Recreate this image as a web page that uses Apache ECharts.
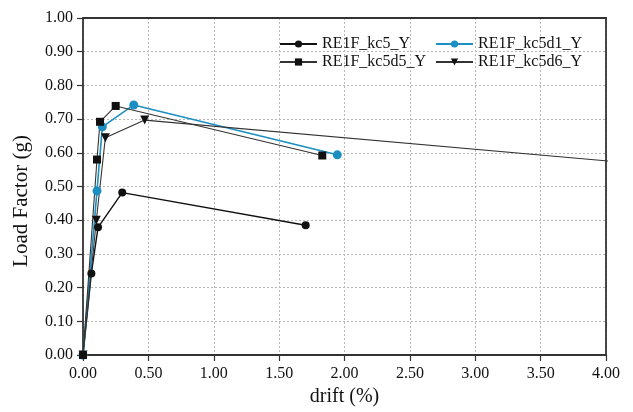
<!DOCTYPE html>
<html>
<head>
<meta charset="utf-8">
<script src="https://cdn.jsdelivr.net/npm/echarts@6/dist/echarts.min.js"></script>
<style>
  html, body { margin: 0; padding: 0; background: #ffffff; }
  #chart { width: 633px; height: 412px; }
</style>
</head>
<body>
<div id="chart"></div>
<script>
// Drift (%) and load factor (g) for each model run
const seriesNames = ['RE1F_kc5_Y', 'RE1F_kc5d1_Y', 'RE1F_kc5d5_Y', 'RE1F_kc5d6_Y'];
const driftKc5   = [0, 0.064, 0.115, 0.300, 1.703];
const loadKc5    = [0, 0.242, 0.379, 0.482, 0.385];
const driftKc5d1 = [0, 0.107, 0.148, 0.388, 1.945];
const loadKc5d1  = [0, 0.487, 0.677, 0.742, 0.594];
const driftKc5d5 = [0, 0.107, 0.130, 0.250, 1.830];
const loadKc5d5  = [0, 0.580, 0.692, 0.739, 0.592];
const driftKc5d6 = [0, 0.102, 0.171, 0.472, 5.000];
const loadKc5d6  = [0, 0.400, 0.645, 0.697, 0.542];

const FONT = "'Liberation Serif', 'Times New Roman', serif";
const AXIS_COLOR = '#333';

function pairs(xs, ys) {
  return xs.map((x, i) => [x, ys[i]]);
}

const chart = echarts.init(document.getElementById('chart'), null, { renderer: 'canvas' });

const legendText = { fontFamily: FONT, fontSize: 16, color: '#111' };
const gridDash = { show: true, lineStyle: { color: '#b8b8b8', type: [2, 2], width: 1 } };

// Plain frame lines for the top and right edges of the plot
const frameAxis = {
  type: 'value', axisLine: { show: true, onZero: false, lineStyle: { color: AXIS_COLOR, width: 1.8 } },
  axisTick: { show: false }, axisLabel: { show: false }, splitLine: { show: false }
};

chart.setOption({
  animation: false,
  backgroundColor: '#ffffff',
  grid: { left: 83, right: 27, top: 18, bottom: 57 },
  legend: [
    {
      data: [seriesNames[0], seriesNames[2]],
      orient: 'vertical', left: 274, top: 31,
      itemWidth: 37, itemHeight: 9, itemGap: 2,
      textStyle: legendText
    },
    {
      data: [seriesNames[1], seriesNames[3]],
      orient: 'vertical', left: 430, top: 31,
      itemWidth: 37, itemHeight: 9, itemGap: 2,
      textStyle: legendText
    }
  ],
  xAxis: [
    {
      type: 'value', min: 0, max: 4, interval: 0.5,
      name: 'drift (%)', nameLocation: 'middle', nameGap: 31,
      nameTextStyle: { fontFamily: FONT, fontSize: 20, color: '#111' },
      axisLine: { show: true, onZero: false, lineStyle: { color: AXIS_COLOR, width: 1.8 } },
      axisTick: { show: true, inside: false, length: 6, lineStyle: { color: AXIS_COLOR, width: 1.2 } },
      axisLabel: { fontFamily: FONT, fontSize: 16, color: '#111', margin: 11,
        formatter: v => v.toFixed(2) },
      splitLine: gridDash
    },
    Object.assign({ position: 'top', min: 0, max: 4 }, frameAxis)
  ],
  yAxis: [
    {
      type: 'value', min: 0, max: 1, interval: 0.1,
      name: 'Load Factor (g)', nameLocation: 'middle', nameGap: 51,
      nameTextStyle: { fontFamily: FONT, fontSize: 21, color: '#111', padding: [0, 29, 0, 0] },
      axisLine: { show: true, onZero: false, lineStyle: { color: AXIS_COLOR, width: 1.8 } },
      axisTick: { show: true, inside: false, length: 6, lineStyle: { color: AXIS_COLOR, width: 1.2 } },
      axisLabel: { fontFamily: FONT, fontSize: 16, color: '#111', margin: 10,
        formatter: v => v.toFixed(2) },
      splitLine: gridDash
    },
    Object.assign({ position: 'right', min: 0, max: 1 }, frameAxis)
  ],
  series: [
    {
      name: seriesNames[0], type: 'line', data: pairs(driftKc5, loadKc5),
      symbol: 'circle', symbolSize: 8, clip: true,
      lineStyle: { color: '#111', width: 1.4 }, itemStyle: { color: '#111' }
    },
    {
      name: seriesNames[1], type: 'line', data: pairs(driftKc5d1, loadKc5d1),
      symbol: 'circle', symbolSize: 9, clip: true,
      lineStyle: { color: '#1b8fc2', width: 1.6 }, itemStyle: { color: '#1b8fc2' }
    },
    {
      name: seriesNames[2], type: 'line', data: pairs(driftKc5d5, loadKc5d5),
      symbol: 'rect', symbolSize: 8, clip: true,
      lineStyle: { color: '#333', width: 1.1 }, itemStyle: { color: '#111' }
    },
    {
      name: seriesNames[3], type: 'line', data: pairs(driftKc5d6, loadKc5d6),
      symbol: 'triangle', symbolRotate: 180, symbolSize: 9, clip: true,
      lineStyle: { color: '#333', width: 1.1 }, itemStyle: { color: '#111' }
    }
  ]
});
</script>
</body>
</html>
